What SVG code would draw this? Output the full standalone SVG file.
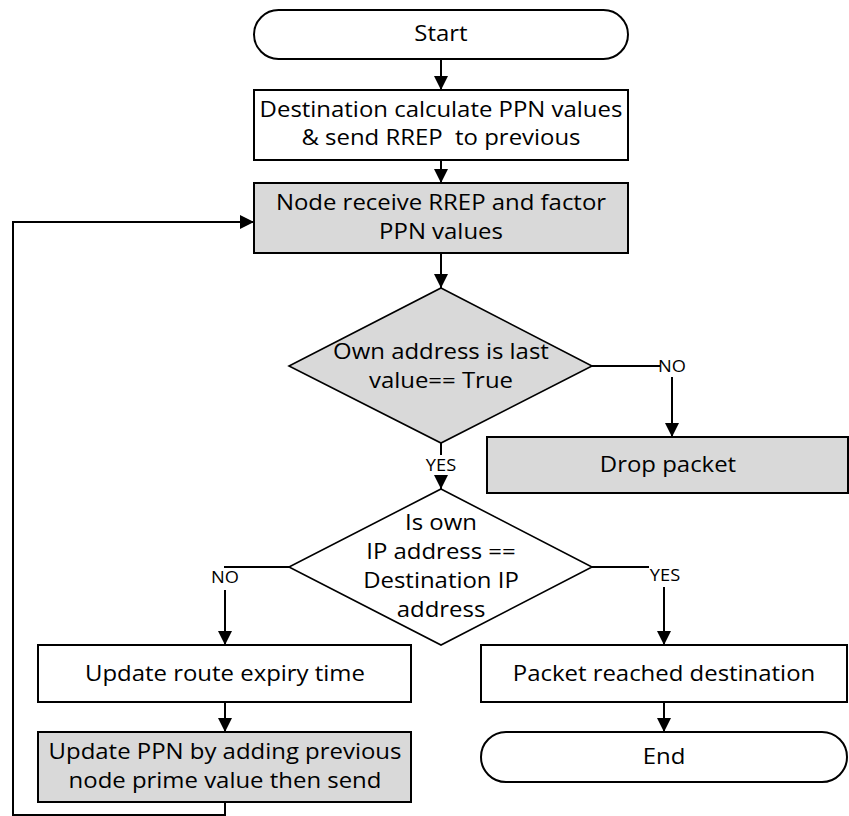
<svg xmlns="http://www.w3.org/2000/svg" width="849" height="816" viewBox="0 0 849 816">
  <defs>
    <marker id="arrow" markerUnits="userSpaceOnUse" markerWidth="14" markerHeight="14" viewBox="0 0 14 14" refX="14" refY="7" orient="auto">
      <path d="M0,0 L14,7 L0,14 Z" fill="#000"/>
    </marker>
    <style>
      .box { fill: #ffffff; stroke: #000; stroke-width: 2; }
      .grey { fill: #d9d9d9; stroke: #000; stroke-width: 2; }
      .dia { stroke: #000; stroke-width: 1.6; }
      .t, .lbl { font-family: "Open Sans", "Liberation Sans", sans-serif; fill: #000; text-anchor: middle;
                 white-space: pre;
                 transform-box: fill-box; transform-origin: center; transform: scaleX(1.14); }
      .t { font-size: 21px; }
      .lbl { font-size: 16px; }
      .ln { fill: none; stroke: #000; stroke-width: 2; }
      .ar { fill: none; stroke: #000; stroke-width: 2; marker-end: url(#arrow); }
    </style>
  </defs>

  <rect width="849" height="816" fill="#ffffff"/>

  <!-- connectors -->
  <g id="connectors">
    <path class="ar" d="M441,59 L441,90"/>
    <path class="ar" d="M441,160 L441,183"/>
    <path class="ar" d="M441,253 L441,288"/>
    <!-- NO branch of first decision -->
    <path class="ln" d="M592,366 L660,366"/>
    <path class="ar" d="M672,377 L672,437"/>
    <!-- YES branch of first decision -->
    <path class="ln" d="M441,443 L441,455"/>
    <path class="ar" d="M441,476 L441,489"/>
    <!-- NO branch of second decision -->
    <path class="ln" d="M289,567 L224,567"/>
    <path class="ar" d="M225,590 L225,645"/>
    <!-- YES branch of second decision -->
    <path class="ln" d="M592,567 L649,567"/>
    <path class="ar" d="M664,587 L664,645"/>
    <path class="ar" d="M225,702 L225,732"/>
    <path class="ar" d="M664,702 L664,732"/>
    <!-- loop back -->
    <path class="ar" d="M225,802 L225,815 L13,815 L13,222 L254,222"/>
    <text class="lbl" x="672" y="372">NO</text>
    <text class="lbl" x="441" y="471">YES</text>
    <text class="lbl" x="225" y="583">NO</text>
    <text class="lbl" x="665" y="581">YES</text>
  </g>

  <g id="start">
    <rect class="box" x="254" y="10" width="374" height="49" rx="24.5"/>
    <text class="t" x="441" y="41">Start</text>
  </g>

  <g id="calc">
    <rect class="box" x="254" y="90" width="374" height="70"/>
    <text class="t" x="441" y="117">Destination calculate PPN values</text>
    <text class="t" x="441" y="145">&amp; send RREP  to previous</text>
  </g>

  <g id="receive">
    <rect class="grey" x="254" y="183" width="374" height="70"/>
    <text class="t" x="441" y="210">Node receive RREP and factor</text>
    <text class="t" x="441" y="239">PPN values</text>
  </g>

  <g id="check-last">
    <path class="dia" fill="#d9d9d9" d="M441,288 L592,366 L441,443 L289,366 Z"/>
    <text class="t" x="441" y="359">Own address is last</text>
    <text class="t" x="441" y="388">value== True</text>
  </g>

  <g id="drop">
    <rect class="grey" x="487" y="437" width="361" height="56"/>
    <text class="t" x="668" y="472">Drop packet</text>
  </g>

  <g id="check-dest">
    <path class="dia" fill="#ffffff" d="M441,489 L592,567 L441,645 L289,567 Z"/>
    <text class="t" x="441" y="530">Is own</text>
    <text class="t" x="441" y="559">IP address ==</text>
    <text class="t" x="441" y="588">Destination IP</text>
    <text class="t" x="441" y="617">address</text>
  </g>

  <g id="update-route">
    <rect class="box" x="38" y="645" width="373" height="57"/>
    <text class="t" x="225" y="681">Update route expiry time</text>
  </g>

  <g id="update-ppn">
    <rect class="grey" x="38" y="732" width="373" height="70"/>
    <text class="t" x="225" y="759">Update PPN by adding previous</text>
    <text class="t" x="225" y="788">node prime value then send</text>
  </g>

  <g id="reached">
    <rect class="box" x="481" y="645" width="366" height="57"/>
    <text class="t" x="664" y="681">Packet reached destination</text>
  </g>

  <g id="end">
    <rect class="box" x="481" y="732" width="366" height="50" rx="25"/>
    <text class="t" x="664" y="764">End</text>
  </g>
</svg>
